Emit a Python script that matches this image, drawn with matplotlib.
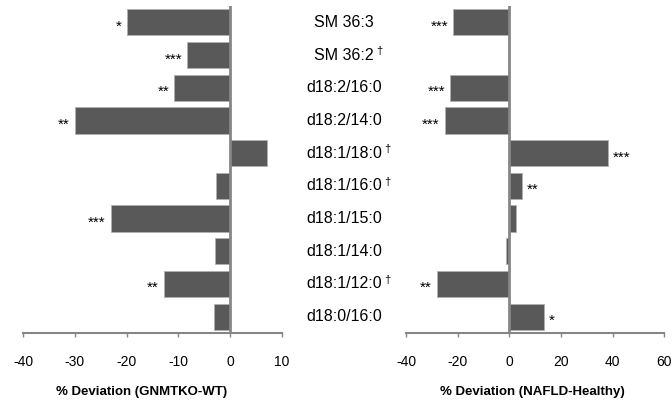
import matplotlib
matplotlib.use("Agg")
import matplotlib.pyplot as plt

plt.rcParams['font.family'] = ['Liberation Sans', 'DejaVu Sans']

categories = ["SM 36:3", "SM 36:2", "d18:2/16:0", "d18:2/14:0", "d18:1/18:0",
              "d18:1/16:0", "d18:1/15:0", "d18:1/14:0", "d18:1/12:0", "d18:0/16:0"]
dagger = [False, True, False, False, True, True, False, False, True, False]

gnmt_values = [-20, -8.3, -10.8, -30, 7.2, -2.7, -23, -3.0, -12.8, -3.1]
gnmt_stars = ["*", "***", "**", "**", "", "", "***", "", "**", ""]

nafld_values = [-21.7, 0, -22.9, -24.9, 38.1, 4.9, 2.5, -1.3, -28, 13.3]
nafld_stars = ["***", "", "***", "***", "***", "**", "", "", "**", "*"]

gnmt_ticks = [-40, -30, -20, -10, 0, 10]
nafld_ticks = [-40, -20, 0, 20, 40, 60]

fig = plt.figure(figsize=(6.72, 4.0), dpi=100)
ax1 = fig.add_axes([23/672, 1-333/400, (282-23)/672, (333-6)/400])
ax2 = fig.add_axes([406/672, 1-333/400, (664.3-406)/672, (333-6)/400])

bar_color = "#595959"
edge_color = "#b0b0b0"
axis_gray = "#868686"

n = len(categories)
ypos = list(range(n))


def draw(ax, vals, stars, ticks, xlabel, offset, label_x):
    ax.barh(ypos, vals, height=0.8, color=bar_color, edgecolor=edge_color, linewidth=0.6, zorder=2)
    ax.set_ylim(n - 0.5, -0.5)
    ax.set_xlim(ticks[0], ticks[-1])
    ax.set_xticks(ticks)
    ax.set_xticklabels([str(t) for t in ticks], fontsize=10)
    ax.tick_params(axis='x', direction='out', length=3, width=1, color=axis_gray, pad=13)
    ax.set_yticks([])
    for s in ['top', 'right', 'left']:
        ax.spines[s].set_visible(False)
    ax.spines['bottom'].set_color(axis_gray)
    ax.spines['bottom'].set_linewidth(1.5)
    ax.axvline(0, color=axis_gray, linewidth=2, zorder=3)
    for y, v, s in zip(ypos, vals, stars):
        if not s:
            continue
        if v < 0:
            ax.text(v - offset, y + 0.13, s, ha='right', va='center', fontsize=11)
        else:
            ax.text(v + offset, y + 0.13, s, ha='left', va='center', fontsize=11)
    ax.set_xlabel(xlabel, fontsize=9.5, fontweight='bold')
    ax.xaxis.set_label_coords(label_x, -0.163)


draw(ax1, gnmt_values, gnmt_stars, gnmt_ticks, "% Deviation (GNMTKO-WT)", 1.0, 0.456)
draw(ax2, nafld_values, nafld_stars, nafld_ticks, "% Deviation (NAFLD-Healthy)", 2.0, 0.488)

fig.canvas.draw()
for y, c, d in zip(ypos, categories, dagger):
    yf = ax1.transData.transform((0, y))[1]
    yfig = fig.transFigure.inverted().transform((0, yf))[1]
    t = fig.text(344/672, yfig, c, ha='center', va='center', fontsize=11.5)
    if d:
        bb = t.get_window_extent(renderer=fig.canvas.get_renderer())
        xr = fig.transFigure.inverted().transform((bb.x1 + 2, 0))[0]
        fig.text(xr, yfig + 0.01, "\u2020", ha='left', va='center', fontsize=8)

fig.savefig("out.png", dpi=100)
